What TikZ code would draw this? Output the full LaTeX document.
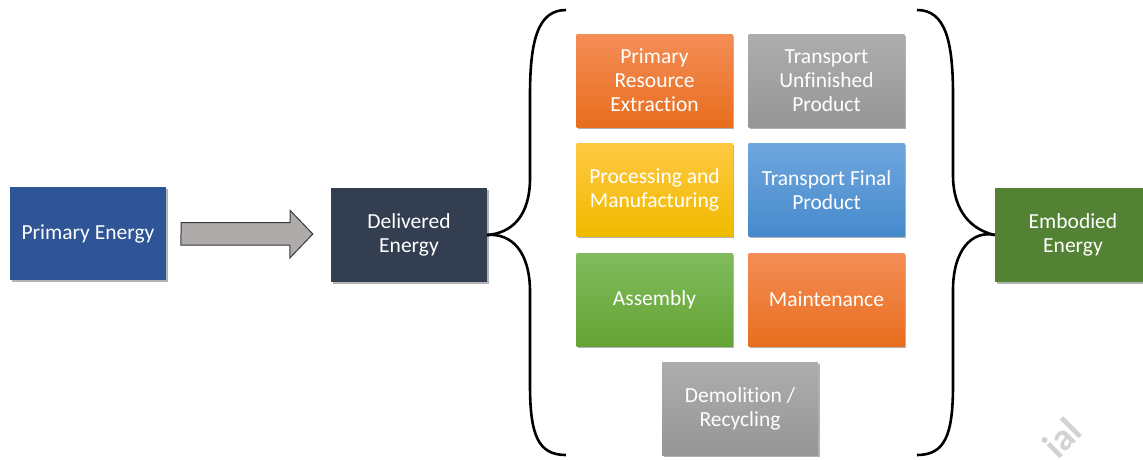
\documentclass[tikz,border=0pt]{standalone}
\usepackage{fontspec}
\setmainfont{Carlito}[Ligatures={NoCommon}]
\usetikzlibrary{shadows,calc}
\definecolor{pblue}{RGB}{47,85,151}
\definecolor{dnavy}{RGB}{51,63,80}
\definecolor{egreen}{RGB}{84,130,53}
\definecolor{orT}{RGB}{244,141,86}
\definecolor{orB}{RGB}{232,110,30}
\definecolor{grT}{RGB}{173,173,173}
\definecolor{grB}{RGB}{150,150,150}
\definecolor{yeT}{RGB}{255,200,66}
\definecolor{yeB}{RGB}{240,186,0}
\definecolor{blT}{RGB}{111,166,222}
\definecolor{blB}{RGB}{70,138,204}
\definecolor{gnT}{RGB}{129,187,93}
\definecolor{gnB}{RGB}{100,164,52}
\definecolor{arrfill}{RGB}{175,171,171}
\definecolor{arrline}{RGB}{55,55,55}
\definecolor{wmark}{RGB}{210,210,210}
\begin{document}
\begin{tikzpicture}[x=1pt,y=-1pt,
  box/.style={minimum width=156pt,minimum height=93pt,inner sep=2pt,
    text=white,align=center,font=\fontsize{21.5}{24}\selectfont,
    drop shadow={shadow xshift=1.5pt,shadow yshift=-1.5pt,opacity=0.3,fill=black}},
  orbox/.style={box,top color=orT,bottom color=orB},
  grbox/.style={box,top color=grT,bottom color=grB},
  yebox/.style={box,top color=yeT,bottom color=yeB},
  blbox/.style={box,top color=blT,bottom color=blB},
  gnbox/.style={box,top color=gnT,bottom color=gnB},
  brace/.style={line width=2.6pt,black},
  arrowshape/.style={fill=arrfill,draw=arrline,line width=1pt,line join=miter}]
\useasboundingbox (0,0) rectangle (1143,459);
\clip (0,0) rectangle (1143,459);

\node[box,fill=pblue] (pe) at (88,233.5) {Primary Energy};
\node[box,fill=dnavy,minimum height=94pt] (de) at (409,235) {Delivered\\Energy};
\node[box,fill=egreen,minimum height=94pt] (ee) at (1073,235) {Embodied\\Energy};

\node[orbox] (pre) at (654.5,80.5) {Primary\\Resource\\Extraction};
\node[grbox] (tup) at (826.5,80.5) {Transport\\Unfinished\\Product};
\node[yebox] (pm) at (654.5,190) {Processing and\\Manufacturing};
\node[blbox] (tfp) at (826.5,190) {Transport Final\\Product};
\node[gnbox] (as) at (654.5,299.5) {Assembly};
\node[orbox] (mt) at (826.5,299.5) {Maintenance};
\node[grbox] (dr) at (740,408.5) {Demolition /\\Recycling};

% block arrow between Primary Energy and Delivered Energy
\coordinate (atail) at ($(pe.east)+(15,0)$);
\coordinate (atip) at ($(de.west)+(-18,-1)$);
\draw[arrowshape] (atail) ++(0,-11) -- ++(109,0) -- ++(0,-12) -- (atip)
  -- ++(-23,24) -- ++(0,-13) -- ++(-109,0) -- cycle;

% left brace
\coordinate (lt) at (566,10);
\coordinate (lb) at (566,455);
\draw[brace] (lt) .. controls (538,10) and (530,40) .. (530,95)
  -- (530,178) .. controls (530,216) and (512,233) .. (de.east);
\draw[brace] (de.east) .. controls (512,233) and (530,252) .. (530,292)
  -- (530,385) .. controls (530,435) and (538,455) .. (lb);

% right brace
\coordinate (rt) at (917,10);
\coordinate (rb) at (917,455);
\draw[brace] (rt) .. controls (945,10) and (953,40) .. (953,95)
  -- (953,175) .. controls (953,212) and (972,230) .. (ee.west);
\draw[brace] (ee.west) .. controls (972,230) and (953,250) .. (953,290)
  -- (953,385) .. controls (953,435) and (945,455) .. (rb);

% faint watermark
\node[text=wmark,font=\fontsize{38}{38}\selectfont\bfseries,rotate=45] (wm) at (1062,438) {ial};
\end{tikzpicture}
\end{document}
